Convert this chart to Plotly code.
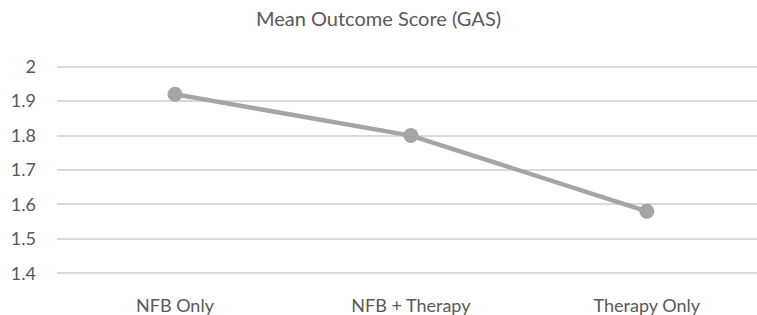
import plotly.graph_objects as go

categories = ["NFB Only", "NFB + Therapy", "Therapy Only"]
values = [1.92, 1.80, 1.58]
y_ticks = [1.4, 1.5, 1.6, 1.7, 1.8, 1.9, 2.0]
y_labels = ["1.4", "1.5", "1.6", "1.7", "1.8", "1.9", "2"]
title = "Mean Outcome Score (GAS)"

FONT = "Lato"
TXT = "#595959"
W, H = 757, 315

fig = go.Figure()
fig.add_trace(go.Scatter(
    x=categories, y=values, mode="lines+markers",
    line=dict(color="#A5A5A5", width=4.5),
    marker=dict(color="#A5A5A5", size=15),
    cliponaxis=False,
    showlegend=False,
))

fig.update_layout(
    width=W, height=H,
    margin=dict(l=57, r=0, t=65, b=40, pad=0),
    paper_bgcolor="white", plot_bgcolor="white",
    title=dict(text=title, x=0.5, xanchor="center", y=1 - 19 / H, yanchor="middle",
               font=dict(family=FONT, size=20, color=TXT)),
    font=dict(family=FONT, size=18, color=TXT),
)
fig.update_xaxes(
    type="category", range=[-0.5, 2.467],
    showgrid=False, showline=False, zeroline=False, ticks="",
    tickfont=dict(family=FONT, size=18, color=TXT),
    ticklabelstandoff=18,
)
fig.update_yaxes(
    range=[1.395, 2.005], tickvals=y_ticks, ticktext=y_labels,
    showgrid=True, gridcolor="#D9D9D9", gridwidth=1.5,
    showline=False, zeroline=False, ticks="",
    tickfont=dict(family=FONT, size=18, color=TXT),
    ticklabelstandoff=20,
)

fig.write_html(
    "out.html",
    config={"displayModeBar": False},
    post_script="document.body.style.margin='0';document.body.style.overflow='hidden';",
)
